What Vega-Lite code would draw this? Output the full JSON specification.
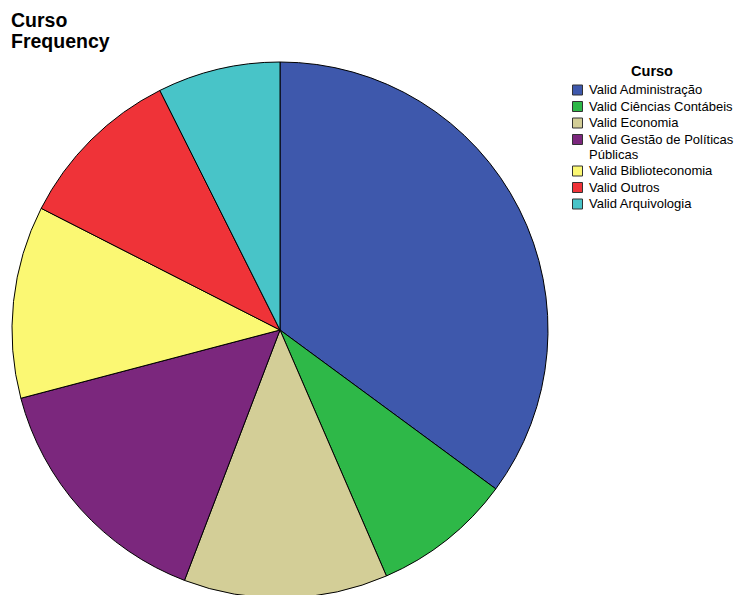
{
  "$schema": "https://vega.github.io/schema/vega-lite/v6.json",
  "autosize": "none",
  "width": 536,
  "height": 536,
  "padding": {"left": 12, "top": 62, "right": 189, "bottom": 0},
  "background": "white",
  "title": {
    "text": ["Curso", "Frequency"],
    "anchor": "start",
    "frame": "group",
    "font": "Liberation Sans",
    "fontSize": 19.5,
    "fontWeight": "bold",
    "color": "#000000",
    "lineHeight": 20.5,
    "offset": 8,
    "dx": -1
  },
  "data": {
    "values": [
      {"curso": "Valid Administração", "pct": 35.1, "ord": 1},
      {"curso": "Valid Ciências Contábeis", "pct": 8.4, "ord": 2},
      {"curso": "Valid Economia", "pct": 12.3, "ord": 3},
      {"curso": "Valid Gestão de Políticas Públicas", "pct": 15.1, "ord": 4},
      {"curso": "Valid Biblioteconomia", "pct": 11.6, "ord": 5},
      {"curso": "Valid Outros", "pct": 10.1, "ord": 6},
      {"curso": "Valid Arquivologia", "pct": 7.4, "ord": 7}
    ]
  },
  "mark": {"type": "arc", "outerRadius": 268, "stroke": "#000000", "strokeWidth": 1},
  "encoding": {
    "theta": {"field": "pct", "type": "quantitative", "stack": true},
    "order": {"field": "ord", "type": "quantitative"},
    "color": {
      "field": "curso",
      "type": "nominal",
      "title": "Curso",
      "sort": ["Valid Administração", "Valid Ciências Contábeis", "Valid Economia", "Valid Gestão de Políticas Públicas", "Valid Biblioteconomia", "Valid Outros", "Valid Arquivologia"],
      "scale": {
        "domain": ["Valid Administração", "Valid Ciências Contábeis", "Valid Economia", "Valid Gestão de Políticas Públicas", "Valid Biblioteconomia", "Valid Outros", "Valid Arquivologia"],
        "range": ["#3E58AC", "#2EB848", "#D3CE97", "#7B277D", "#FBF873", "#EF3338", "#48C4C8"]
      },
      "legend": {
        "orient": "none",
        "legendX": 559,
        "legendY": 3,
        "titleFont": "Liberation Sans",
        "titleFontSize": 14.5,
        "titleFontWeight": "bold",
        "titleColor": "#000000",
        "titleAnchor": "middle",
        "titlePadding": 4,
        "labelFont": "Liberation Sans",
        "labelFontSize": 13,
        "labelColor": "#000000",
        "labelLimit": 200,
        "labelOffset": 5,
        "labelExpr": "datum.label == 'Valid Gestão de Políticas Públicas' ? ['Valid Gestão de Políticas', 'Públicas'] : datum.label",
        "symbolType": "square",
        "symbolSize": 100,
        "symbolStrokeColor": "#333333",
        "symbolStrokeWidth": 1,
        "rowPadding": 1.5
      }
    }
  },
  "config": {"view": {"stroke": null}}
}
